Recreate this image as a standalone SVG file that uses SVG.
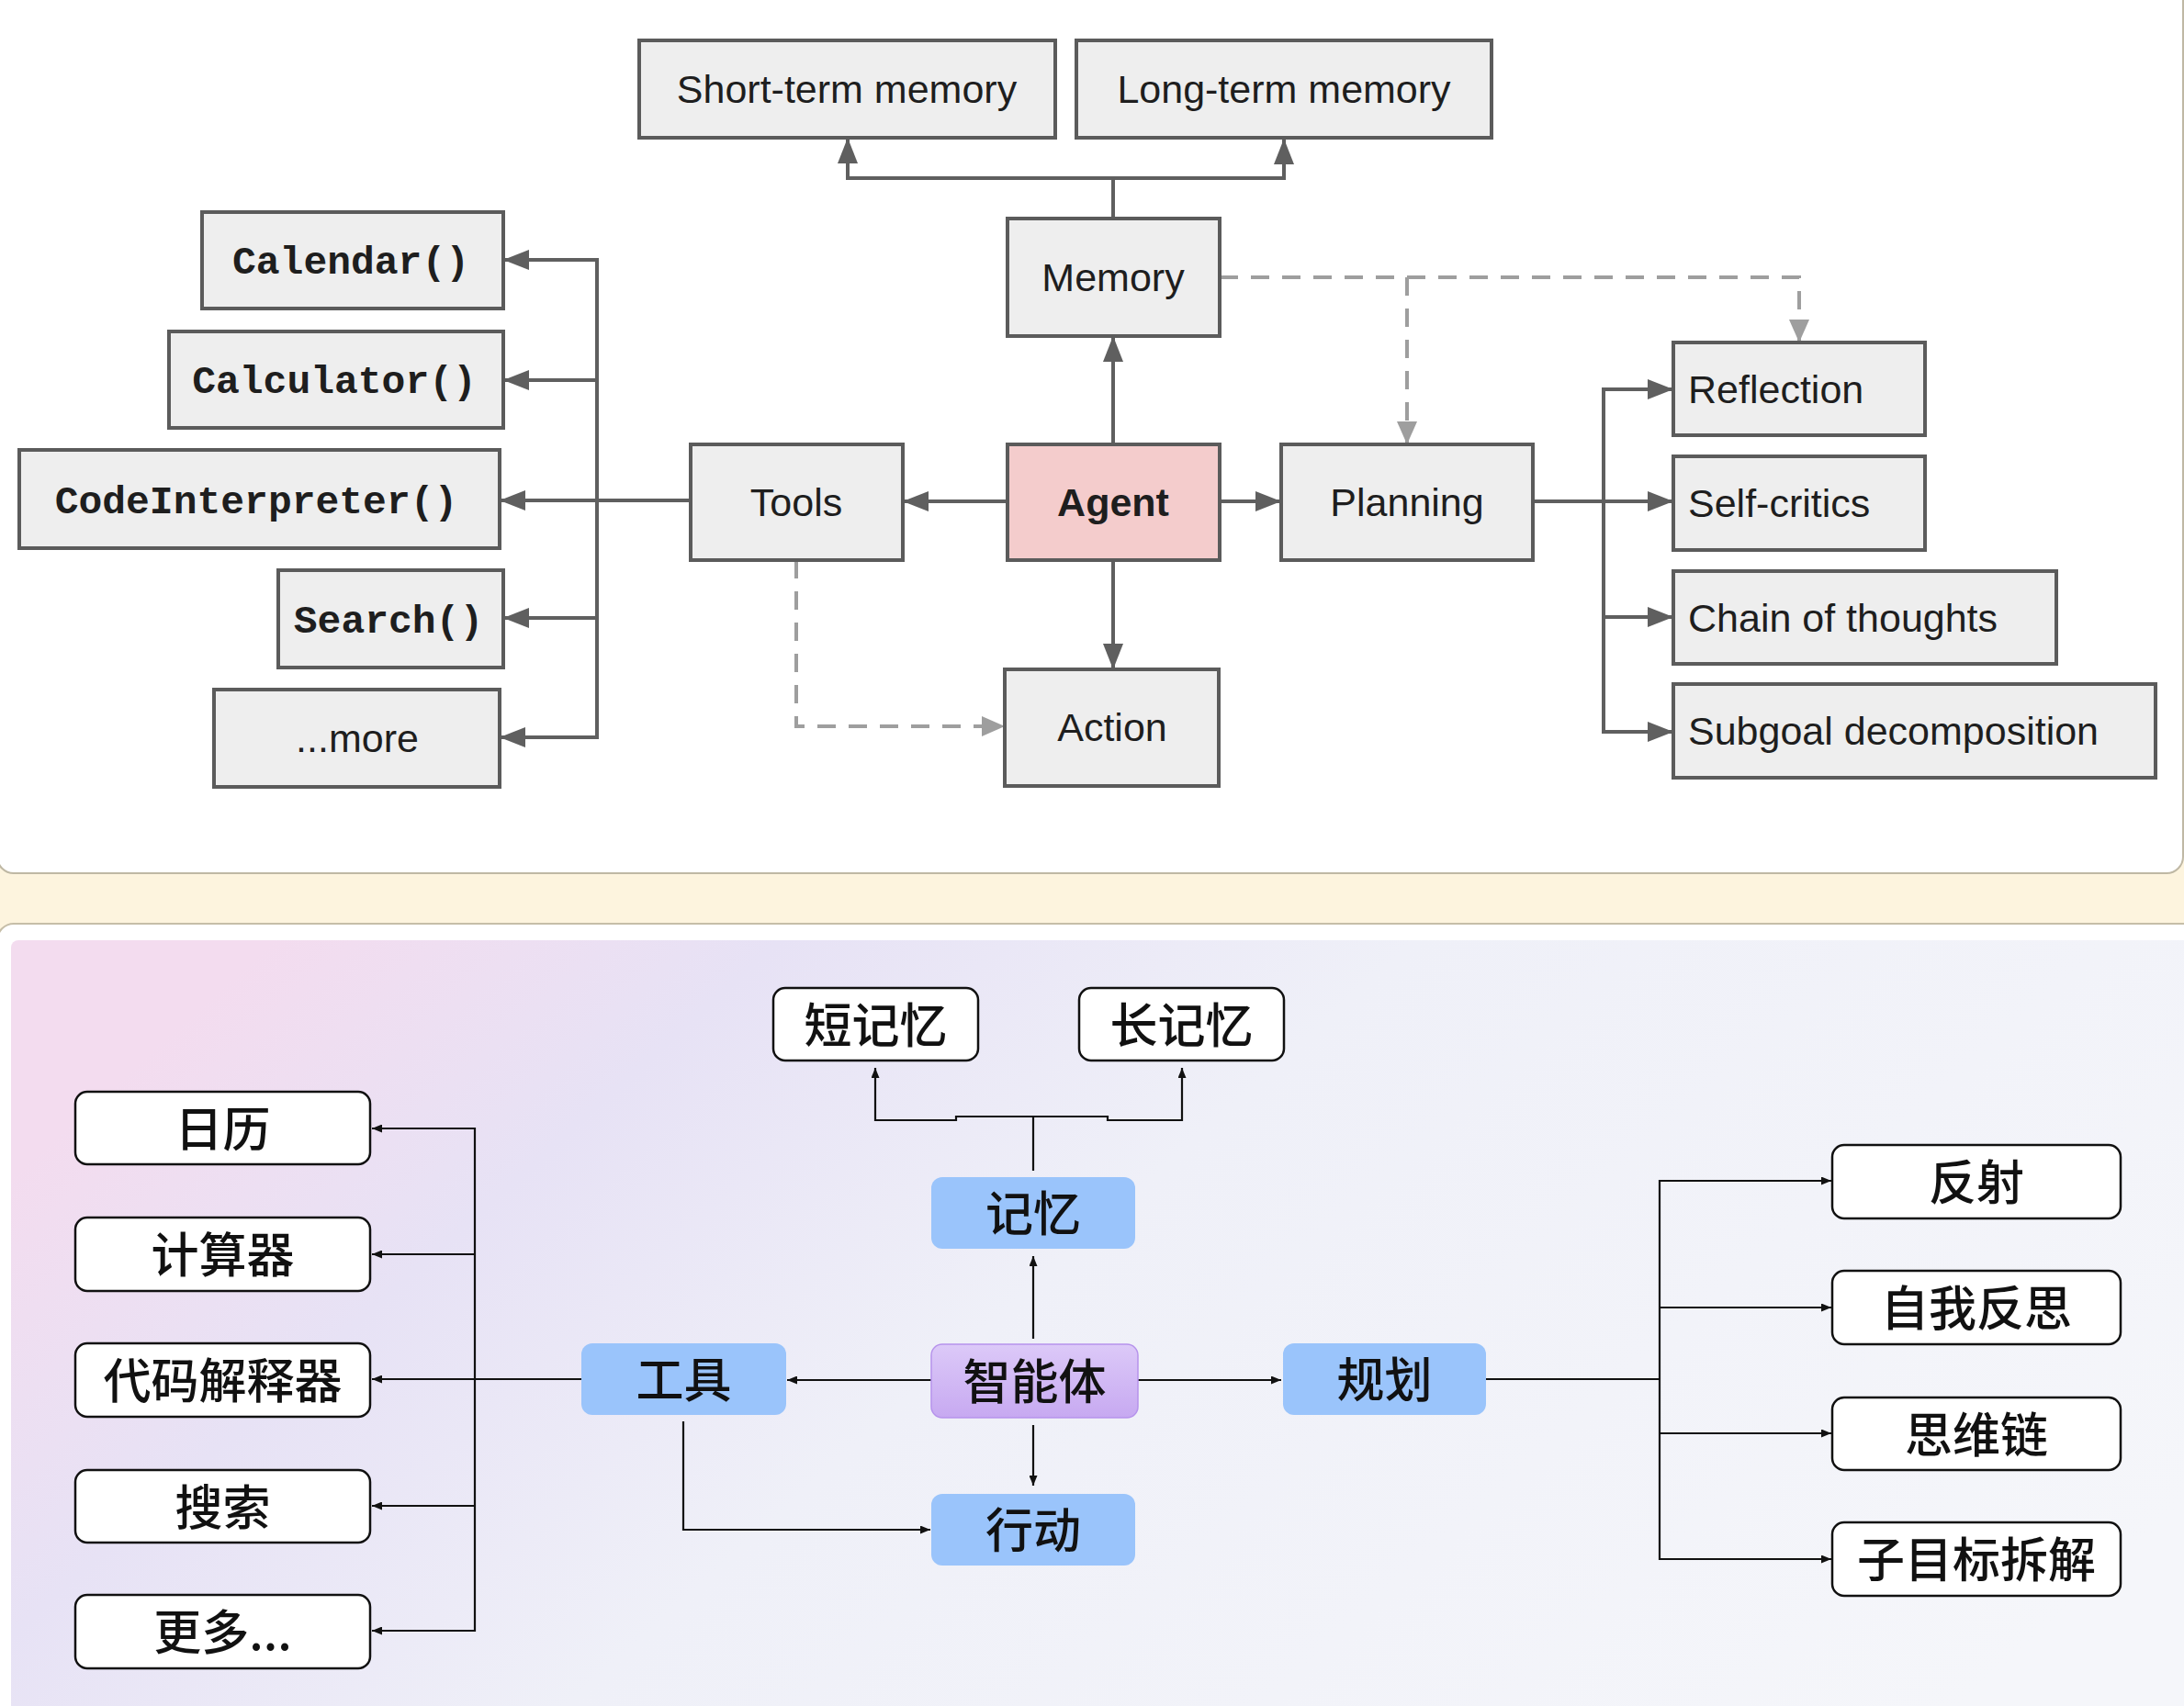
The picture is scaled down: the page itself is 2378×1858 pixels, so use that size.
<svg xmlns="http://www.w3.org/2000/svg" width="2378" height="1858" viewBox="0 0 2378 1858">
<defs>
<style>
.tbox{fill:#eeeeee;stroke:#5b5b5b;stroke-width:4}
.pink{fill:#f4cccc}
.tt{font-family:"Liberation Sans",Arial,sans-serif;font-size:43px;fill:#1e1e1e}
.tb{font-weight:bold}
.tm{font-family:"Liberation Mono","Courier New",monospace;font-weight:bold;font-size:43px;fill:#1e1e1e}
.tc{stroke:#5f5f5f;stroke-width:4;fill:none}
.td{stroke:#9e9e9e;stroke-width:4;stroke-dasharray:20 14;fill:none}
.bbox{fill:#ffffff;stroke:#111111;stroke-width:2.5}
.blue{fill:#9ac4fb}
.purple{fill:url(#gp);stroke:#b693ec;stroke-width:1.5}
.ct{font-family:"Noto Sans CJK SC","Noto Sans CJK JP",sans-serif;font-size:52px;font-weight:500;fill:#111111}
.bc{stroke:#111111;stroke-width:2.2;fill:none}
.aS{marker-end:url(#mS)}
.aS2{marker-start:url(#mS);marker-end:url(#mS)}
.aD{marker-end:url(#mD)}
.aB{marker-end:url(#mB)}
.aB2{marker-start:url(#mB);marker-end:url(#mB)}
</style>
<marker id="mS" markerUnits="userSpaceOnUse" markerWidth="28" markerHeight="22" viewBox="0 0 28 22" refX="28" refY="11" orient="auto-start-reverse"><path d="M0,0 L28,11 L0,22 z" fill="#5f5f5f"/></marker>
<marker id="mD" markerUnits="userSpaceOnUse" markerWidth="25" markerHeight="22" viewBox="0 0 25 22" refX="25" refY="11" orient="auto-start-reverse"><path d="M0,0 L25,11 L0,22 z" fill="#9e9e9e"/></marker>
<marker id="mB" markerUnits="userSpaceOnUse" markerWidth="11" markerHeight="9" viewBox="0 0 11 9" refX="11" refY="4.5" orient="auto-start-reverse"><path d="M0,0 L11,4.5 L0,9 z" fill="#111111"/></marker>
<linearGradient id="gbg" x1="0" y1="0.3" x2="1" y2="0.7">
<stop offset="0" stop-color="#f3dcef"/>
<stop offset="0.2" stop-color="#e7e2f5"/>
<stop offset="0.45" stop-color="#eff0f8"/>
<stop offset="1" stop-color="#f5f6fa"/>
</linearGradient>
<linearGradient id="gp" x1="0" y1="0" x2="0" y2="1">
<stop offset="0" stop-color="#dcc9f8"/>
<stop offset="1" stop-color="#c7a9f1"/>
</linearGradient>
</defs>

<rect x="0" y="0" width="2378" height="1858" fill="#fdf4de"/>
<rect x="-3" y="-40" width="2380" height="991" rx="18" fill="#ffffff" stroke="#bfb8a4" stroke-width="2"/>
<rect x="-3" y="1006" width="2420" height="900" rx="18" fill="#ffffff" stroke="#c6bea8" stroke-width="2"/>
<rect x="12" y="1024" width="2380" height="860" rx="8" fill="url(#gbg)"/>

<g id="connectors">
<path class="tc" d="M1212 238 V194"/>
<path class="tc aS2" d="M923 150 V194 H1398 V151"/>
<path class="tc aS" d="M1212 484 V366"/>
<path class="tc aS" d="M1097 546 H983"/>
<path class="tc aS" d="M1328 546 H1395"/>
<path class="tc aS" d="M1212 610 V729"/>
<path class="tc aS" d="M752 545 H544"/>
<path class="tc aS2" d="M548 283 H650 V803 H544"/>
<path class="tc aS" d="M650 414 H548"/>
<path class="tc aS" d="M650 673 H548"/>
<path class="tc aS" d="M1669 546 H1822"/>
<path class="tc aS2" d="M1822 424 H1746 V797 H1822"/>
<path class="tc aS" d="M1746 672 H1822"/>
<path class="td aD" d="M1328 302 H1959 V373"/>
<path class="td aD" d="M1532 302 V484"/>
<path class="td aD" d="M867 610 V791 H1094"/>

<path class="bc" d="M1125 1275 V1216"/>
<path class="bc aB2" d="M953 1163 V1220 H1041 V1216 H1206 V1220 H1287 V1163"/>
<path class="bc aB" d="M1125 1458 V1368"/>
<path class="bc aB" d="M1014 1503 H857"/>
<path class="bc aB" d="M633 1502 H405"/>
<path class="bc aB2" d="M405 1229 H517 V1776 H405"/>
<path class="bc aB" d="M517 1366 H405"/>
<path class="bc aB" d="M517 1640 H405"/>
<path class="bc aB" d="M1125 1552 V1618"/>
<path class="bc aB" d="M744 1548 V1666 H1013"/>
<path class="bc aB" d="M1239 1503 H1395"/>
<path class="bc" d="M1618 1502 H1807"/>
<path class="bc aB2" d="M1994 1286 H1807 V1698 H1994"/>
<path class="bc aB" d="M1807 1424 H1994"/>
<path class="bc aB" d="M1807 1561 H1994"/>
</g>

<g id="n-stm"><rect class="tbox" x="696" y="44" width="453" height="106"/><text class="tt" x="922" y="112" text-anchor="middle">Short-term memory</text></g>
<g id="n-ltm"><rect class="tbox" x="1172" y="44" width="452" height="106"/><text class="tt" x="1398" y="112" text-anchor="middle">Long-term memory</text></g>
<g id="n-memory"><rect class="tbox" x="1097" y="238" width="231" height="128"/><text class="tt" x="1212" y="317" text-anchor="middle">Memory</text></g>
<g id="n-calendar"><rect class="tbox" x="220" y="231" width="328" height="105"/><text class="tm" x="382" y="298" text-anchor="middle">Calendar()</text></g>
<g id="n-calculator"><rect class="tbox" x="184" y="361" width="364" height="105"/><text class="tm" x="364" y="428" text-anchor="middle">Calculator()</text></g>
<g id="n-code"><rect class="tbox" x="21" y="490" width="523" height="107"/><text class="tm" x="279" y="559" text-anchor="middle">CodeInterpreter()</text></g>
<g id="n-search"><rect class="tbox" x="303" y="621" width="245" height="106"/><text class="tm" x="423" y="689" text-anchor="middle">Search()</text></g>
<g id="n-more"><rect class="tbox" x="233" y="751" width="311" height="106"/><text class="tt" x="389" y="819" text-anchor="middle">...more</text></g>
<g id="n-tools"><rect class="tbox" x="752" y="484" width="231" height="126"/><text class="tt" x="867" y="562" text-anchor="middle">Tools</text></g>
<g id="n-agent"><rect class="tbox pink" x="1097" y="484" width="231" height="126"/><text class="tt tb" x="1212" y="562" text-anchor="middle">Agent</text></g>
<g id="n-planning"><rect class="tbox" x="1395" y="484" width="274" height="126"/><text class="tt" x="1532" y="562" text-anchor="middle">Planning</text></g>
<g id="n-action"><rect class="tbox" x="1094" y="729" width="233" height="127"/><text class="tt" x="1211" y="807" text-anchor="middle">Action</text></g>
<g id="n-reflection"><rect class="tbox" x="1822" y="373" width="274" height="101"/><text class="tt" x="1838" y="439">Reflection</text></g>
<g id="n-selfcritics"><rect class="tbox" x="1822" y="497" width="274" height="102"/><text class="tt" x="1838" y="563">Self-critics</text></g>
<g id="n-cot"><rect class="tbox" x="1822" y="622" width="417" height="101"/><text class="tt" x="1838" y="688">Chain of thoughts</text></g>
<g id="n-subgoal"><rect class="tbox" x="1822" y="745" width="525" height="102"/><text class="tt" x="1838" y="811">Subgoal decomposition</text></g>

<g id="c-short"><rect class="bbox" x="842" y="1076" width="223" height="79" rx="13"/><text class="ct" x="953.5" y="1136" text-anchor="middle">短记忆</text></g>
<g id="c-long"><rect class="bbox" x="1175" y="1076" width="223" height="79" rx="13"/><text class="ct" x="1286.5" y="1136" text-anchor="middle">长记忆</text></g>
<g id="c-memory"><rect class="blue" x="1014" y="1282" width="222" height="78" rx="12"/><text class="ct" x="1125" y="1341" text-anchor="middle">记忆</text></g>
<g id="c-calendar"><rect class="bbox" x="82" y="1189" width="321" height="79" rx="13"/><text class="ct" x="242.5" y="1249" text-anchor="middle">日历</text></g>
<g id="c-calculator"><rect class="bbox" x="82" y="1326" width="321" height="80" rx="13"/><text class="ct" x="242.5" y="1386" text-anchor="middle">计算器</text></g>
<g id="c-code"><rect class="bbox" x="82" y="1463" width="321" height="80" rx="13"/><text class="ct" x="242.5" y="1523" text-anchor="middle">代码解释器</text></g>
<g id="c-search"><rect class="bbox" x="82" y="1601" width="321" height="79" rx="13"/><text class="ct" x="242.5" y="1661" text-anchor="middle">搜索</text></g>
<g id="c-more"><rect class="bbox" x="82" y="1737" width="321" height="80" rx="13"/><text class="ct" x="242.5" y="1797" text-anchor="middle">更多...</text></g>
<g id="c-tools"><rect class="blue" x="633" y="1463" width="223" height="78" rx="12"/><text class="ct" x="744.5" y="1522" text-anchor="middle">工具</text></g>
<g id="c-agent"><rect class="purple" x="1014" y="1464" width="225" height="80" rx="12"/><text class="ct" x="1126.5" y="1524" text-anchor="middle">智能体</text></g>
<g id="c-action"><rect class="blue" x="1014" y="1627" width="222" height="78" rx="12"/><text class="ct" x="1125" y="1686" text-anchor="middle">行动</text></g>
<g id="c-planning"><rect class="blue" x="1397" y="1463" width="221" height="78" rx="12"/><text class="ct" x="1507.5" y="1522" text-anchor="middle">规划</text></g>
<g id="c-reflection"><rect class="bbox" x="1995" y="1247" width="314" height="80" rx="13"/><text class="ct" x="2152" y="1307" text-anchor="middle">反射</text></g>
<g id="c-selfreflect"><rect class="bbox" x="1995" y="1384" width="314" height="80" rx="13"/><text class="ct" x="2152" y="1444" text-anchor="middle">自我反思</text></g>
<g id="c-cot"><rect class="bbox" x="1995" y="1522" width="314" height="79" rx="13"/><text class="ct" x="2152" y="1582" text-anchor="middle">思维链</text></g>
<g id="c-subgoal"><rect class="bbox" x="1995" y="1658" width="314" height="80" rx="13"/><text class="ct" x="2152" y="1718" text-anchor="middle">子目标拆解</text></g>
</svg>
